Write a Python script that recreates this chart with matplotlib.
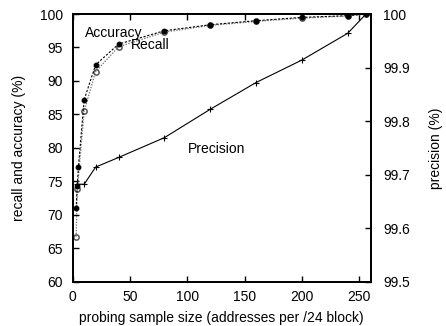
import matplotlib
matplotlib.use("Agg")
import matplotlib.pyplot as plt

# probing sample size (addresses per /24 block)
acc_x = [3, 4, 5, 10, 20, 40, 80, 120, 160, 200, 240, 256]
acc_y = [71.0, 74.3, 77.2, 87.2, 92.4, 95.5, 97.5, 98.4, 99.0, 99.5, 99.75, 100.0]

rec_x = [3, 4, 10, 20, 40, 80, 120, 160, 200, 240, 256]
rec_y = [66.7, 73.8, 85.5, 91.4, 95.1, 97.3, 98.3, 98.9, 99.4, 99.7, 100.0]

prec_x = [4, 10, 20, 40, 80, 120, 160, 200, 240, 256]
prec_y = [99.682, 99.682, 99.714, 99.732, 99.769, 99.822, 99.872, 99.914, 99.964, 100.0]

plt.rcParams.update({'font.family': ['Liberation Sans', 'DejaVu Sans'], 'font.size': 10})

fig = plt.figure(figsize=(4.46, 3.26), dpi=100)
ax = fig.add_axes([0.163, 0.136, 0.668, 0.821])
ax2 = ax.twinx()

ax.plot(rec_x, rec_y, color='#808080', linestyle=(0, (1, 1)), linewidth=1,
        marker='o', markersize=3.8, markerfacecolor='none', markeredgecolor='#555555',
        markeredgewidth=1.1)
ax.plot(acc_x, acc_y, color='black', linestyle=(0, (2, 1.5)), linewidth=0.8,
        marker='o', markersize=3.2, markerfacecolor='black', markeredgecolor='black')
ax2.plot(prec_x, prec_y, color='black', linestyle='-', linewidth=0.8,
         marker='+', markersize=4, markeredgewidth=0.8)

ax.set_xlim(0, 260)
ax.set_ylim(60, 100)
ax2.set_ylim(99.5, 100)
ax.set_xticks([0, 50, 100, 150, 200, 250])
ax.set_yticks(range(60, 101, 5))
ax2.set_yticks([99.5, 99.6, 99.7, 99.8, 99.9, 100])
ax2.set_yticklabels(['99.5', '99.6', '99.7', '99.8', '99.9', '100'])

ax.tick_params(axis='x', direction='in', top=True, length=4, width=1, pad=6)
ax.tick_params(axis='y', direction='in', right=False, length=4, width=1, pad=7)
ax2.tick_params(axis='y', direction='in', length=4, width=1, pad=9)
for a in (ax, ax2):
    for s in a.spines.values():
        s.set_linewidth(1.3)

ax.set_xlabel("probing sample size (addresses per /24 block)", labelpad=5)
ax.set_ylabel("recall and accuracy (%)", labelpad=10)
ax2.set_ylabel("precision (%)", labelpad=14)

ax.text(10.7, 97.1, "Accuracy", ha='left', va='center')
ax.text(51, 95.4, "Recall", ha='left', va='center')
ax.text(100.6, 79.9, "Precision", ha='left', va='center')

fig.savefig("out.png", dpi=100)
